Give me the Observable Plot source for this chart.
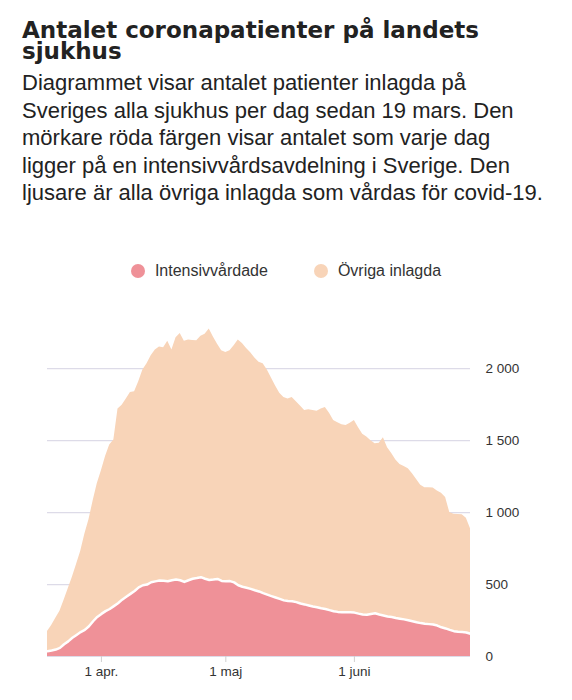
<!DOCTYPE html>
<html>
<head>
<meta charset="utf-8">
<script src="https://cdn.jsdelivr.net/npm/d3@7"></script>
<script src="https://cdn.jsdelivr.net/npm/@observablehq/plot@0.6"></script>
<style>
  html, body { margin: 0; padding: 0; background: #fff; }
  body { width: 572px; font-family: "Liberation Sans", Arial, Helvetica, sans-serif; }
  .head { padding: 19.9px 0 0 22px; width: 526px; }
  h1 { margin: 0; font-family: "DejaVu Sans", Verdana, sans-serif; font-size: 23px; line-height: 21px; font-weight: bold; color: #222; }
  .sub { margin: 7.4px 0 0 0; font-size: 22px; line-height: 27.5px; color: #222; }
  .legend { margin-top: 54px; height: 20px; display: flex; justify-content: center; align-items: center; font-size: 16px; line-height: 20px; color: #333; }
  .item { display: flex; align-items: center; }
  .item + .item { margin-left: 46px; }
  .dot { width: 14px; height: 14px; border-radius: 50%; margin-right: 10px; }
  #chart { margin-top: 14px; }
</style>
</head>
<body>
<div class="head">
  <h1 id="title"></h1>
  <div class="sub" id="subtitle"></div>
</div>
<div class="legend" id="legend"></div>
<div id="chart"></div>
<script>
const titleText = "Antalet coronapatienter på landets sjukhus";
const subtitleText = "Diagrammet visar antalet patienter inlagda på Sveriges alla sjukhus per dag sedan 19 mars. Den mörkare röda färgen visar antalet som varje dag ligger på en intensivvårdsavdelning i Sverige. Den ljusare är alla övriga inlagda som vårdas för covid-19.";
const seriesNames = ["Intensivvårdade", "Övriga inlagda"];
const seriesColors = ["#ef9198", "#f8d4b8"];

const startDate = "2020-03-19";
// Totalt inlagda per dag (19 mars – 29 juni)
const total = [
  174, 215, 265, 315, 390, 470, 550, 640, 730, 850,
  950, 1080, 1200, 1290, 1390, 1470, 1505, 1720, 1745, 1790,
  1835, 1840, 1910, 1990, 2035, 2090, 2130, 2150, 2145, 2190,
  2130, 2215, 2245, 2190, 2200, 2195, 2194, 2225, 2240, 2275,
  2220, 2170, 2125, 2113, 2125, 2160, 2200, 2175, 2140, 2110,
  2075, 2045, 2035, 1990, 1935, 1880, 1830, 1800, 1790, 1800,
  1770, 1740, 1710, 1715, 1710, 1705, 1720, 1731, 1690, 1640,
  1625, 1610, 1605, 1620, 1640, 1590, 1545, 1525, 1500, 1478,
  1482, 1520, 1450, 1410, 1365, 1335, 1320, 1305, 1270, 1230,
  1190, 1172, 1172, 1170, 1150, 1135, 1105, 1000, 988, 986,
  985, 960, 887
];
// Intensivvårdade per dag
const icu = [
  37, 42, 48, 60, 85, 105, 130, 150, 170, 185,
  210, 245, 275, 296, 315, 330, 350, 370, 395, 415,
  435, 455, 480, 495, 500, 516, 522, 528, 526, 523,
  530, 535, 530, 518, 530, 540, 545, 551, 540, 532,
  535, 539, 525, 523, 524, 515, 495, 485, 478, 470,
  460, 452, 440, 430, 420, 410, 400, 390, 385, 384,
  378, 368, 362, 355, 348, 342, 335, 330, 322, 315,
  310, 308, 308, 307, 305, 298, 292, 290, 296, 300,
  292, 285, 278, 274, 268, 263, 258, 252, 245, 238,
  232, 228, 225, 222, 215, 203, 195, 185, 176, 172,
  170, 167, 158
];
const yTicks = [0, 500, 1000, 1500, 2000];
const xTickDates = ["2020-04-01", "2020-05-01", "2020-06-01"];
const xTickLabels = ["1 apr.", "1 maj", "1 juni"];

document.getElementById("title").textContent = titleText;
document.getElementById("subtitle").textContent = subtitleText;
const legend = document.getElementById("legend");
seriesNames.forEach((name, i) => {
  const it = document.createElement("div");
  it.className = "item";
  const d = document.createElement("span");
  d.className = "dot";
  d.style.background = seriesColors[i];
  const t = document.createElement("span");
  t.textContent = name;
  it.appendChild(d); it.appendChild(t);
  legend.appendChild(it);
});

const t0 = new Date(startDate + "T00:00:00Z");
const data = total.map((v, i) => ({
  date: d3.utcDay.offset(t0, i),
  total: v,
  icu: icu[i]
}));
const tickDates = xTickDates.map(s => new Date(s + "T00:00:00Z"));
const fmt = d3.formatLocale({decimal: ",", thousands: " ", grouping: [3], currency: ["", ""]}).format(",");

const chart = Plot.plot({
  width: 572,
  height: 391,
  marginLeft: 47,
  marginRight: 102,
  marginTop: 30,
  marginBottom: 30,
  style: {fontFamily: "'Liberation Sans', Arial, sans-serif", fontSize: "13.5px", color: "#333", background: "#fff"},
  x: {type: "utc", domain: [data[0].date, data[data.length - 1].date]},
  y: {domain: [0, 2300]},
  marks: [
    Plot.ruleY(yTicks, {stroke: "#dddbe8", strokeWidth: 1.2}),
    Plot.areaY(data, {x: "date", y1: "icu", y2: "total", fill: seriesColors[1]}),
    Plot.areaY(data, {x: "date", y: "icu", fill: seriesColors[0]}),
    Plot.lineY(data, {x: "date", y: "icu", stroke: "#fff", strokeWidth: 2.5}),
    Plot.axisY({anchor: "right", ticks: yTicks, tickSize: 0, tickPadding: 15, tickFormat: fmt, label: null}),
    Plot.axisX({ticks: tickDates, tickFormat: (d, i) => xTickLabels[i], tickSize: 6, tickPadding: 4, stroke: "#d0d0d0", label: null})
  ]
});
document.getElementById("chart").appendChild(chart);
</script>
</body>
</html>
